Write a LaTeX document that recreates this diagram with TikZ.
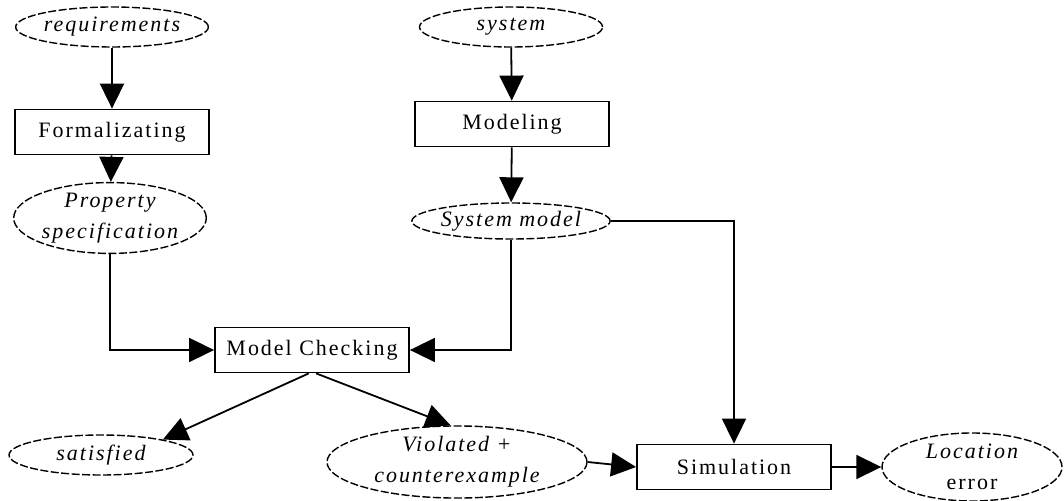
\documentclass[tikz,border=0pt]{standalone}
\usepackage{fontspec}
\setmainfont{Liberation Serif}[LetterSpace=9]
\usetikzlibrary{shapes.geometric,arrows.meta}
\begin{document}
\begin{tikzpicture}[x=1pt,y=-1pt,
  every node/.style={font=\fontsize{22}{30}\selectfont},
  stage/.style={draw,line width=1.8pt,rectangle,inner sep=0pt,minimum width=194pt,minimum height=45pt},
  item/.style={draw,line width=1.4pt,ellipse,inner sep=0pt,align=center,
    dash pattern=on 8pt off 2.5pt,font=\fontsize{22}{31}\selectfont\itshape},
  flow/.style={line width=1.8pt,-{Triangle[width=24pt,length=25pt]}}]
\useasboundingbox (0,0) rectangle (1064,500);

% left column: requirements to property
\node[item,minimum width=184pt,minimum height=40pt] (req) at (112,27) {requirements};
\node[stage] (form) at (112,132) {Formalizating};
\node[item,minimum width=187pt,minimum height=63pt] (prop) at (110,218) {Property\\specification};

% middle column: system to model
\node[item,minimum width=183pt,minimum height=40pt] (sys) at (511,27) {system};
\node[stage] (mod) at (512,124) {Modeling};
\node[item,minimum width=185pt,minimum height=36pt] (smod) at (511,221) {System model};

% checking and its outcomes
\node[stage] (mc) at (312,350) {Model Checking};
\node[item,minimum width=184pt,minimum height=40pt] (sat) at (101,455) {satisfied};
\node[item,minimum width=260pt,minimum height=67pt] (vio) at (457,462) {Violated +\\counterexample};
\node[stage] (sim) at (734,467) {Simulation};
\node[item,minimum width=180pt,minimum height=68pt] (loc) at (972,467) {Location\\\upshape error};

\draw[flow] (req) -- (form);
\draw[flow] (form) -- (prop);
\draw[flow] (sys) -- (mod);
\draw[flow] (mod) -- (smod);
\draw[flow] (prop.south) |- (mc.west);
\draw[flow] (smod.south) |- (mc.east);
\draw[flow] (smod.east) -| (sim.north);
\draw[flow] (mc.262) -- (sat.14);
\draw[flow] (mc.280) -- (vio.100);
\draw[flow] (vio.east) -- (sim.west);
\draw[flow] (sim.east) -- (loc.west);
\end{tikzpicture}
\end{document}
